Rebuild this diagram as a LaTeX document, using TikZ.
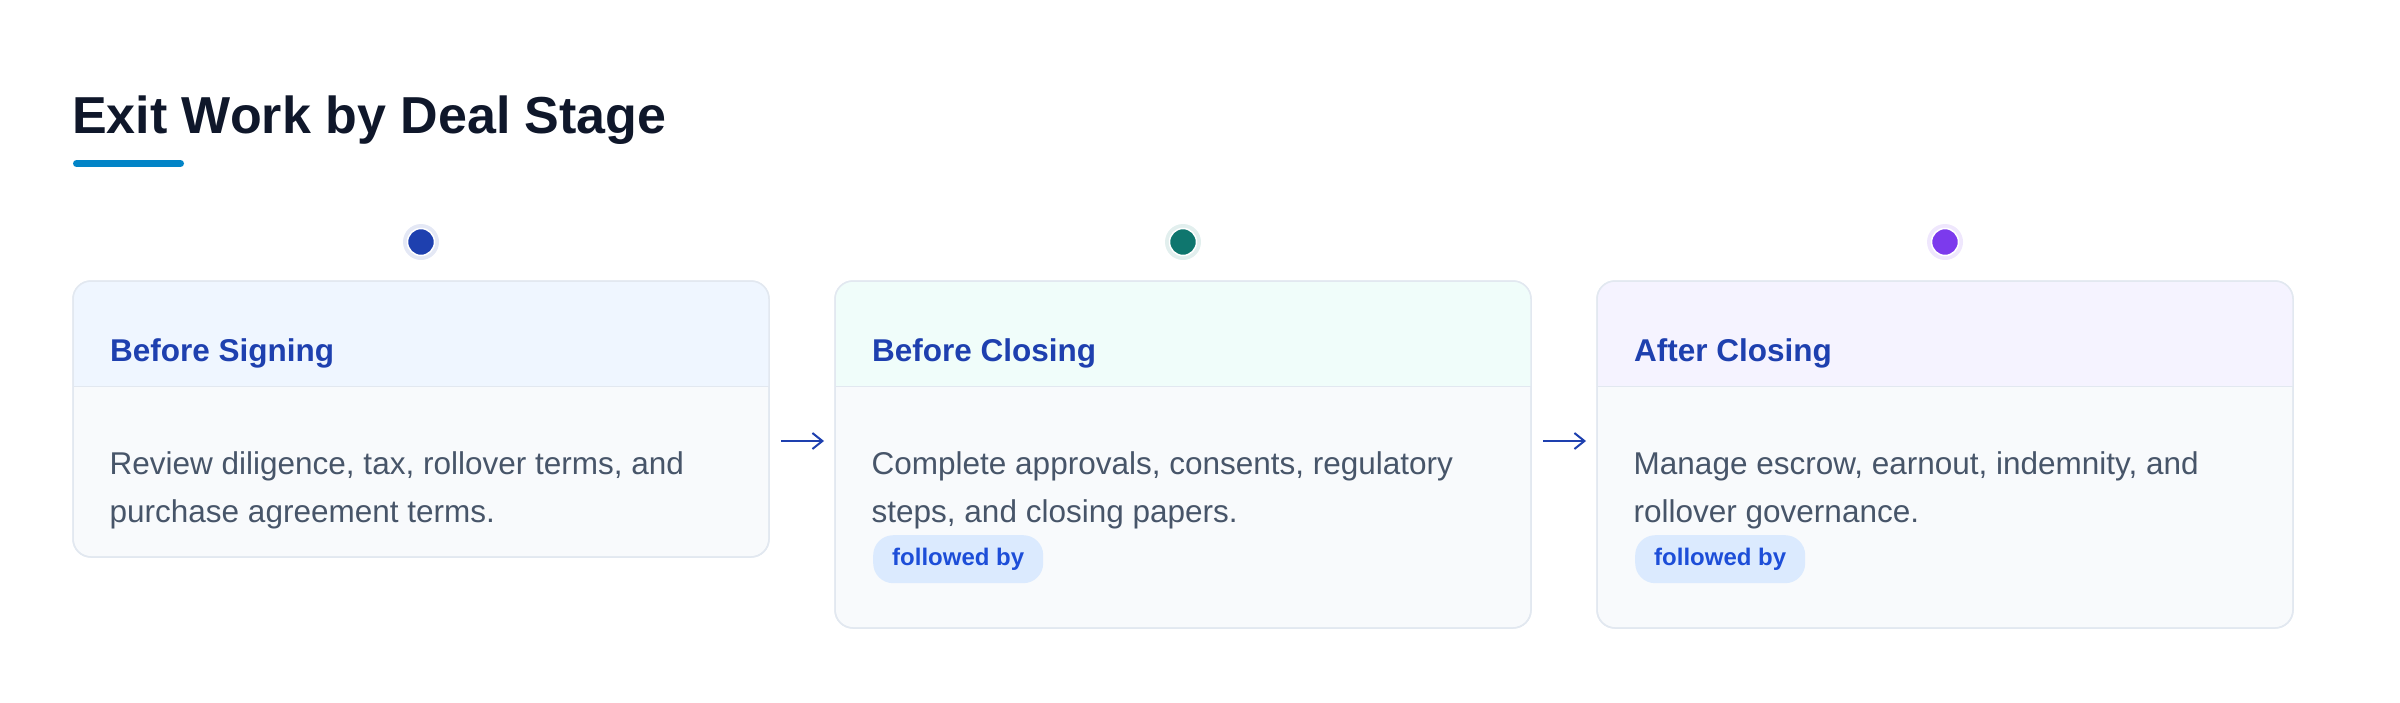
\documentclass[tikz,border=0pt]{standalone}
\usepackage{fontspec}
\setmainfont{Liberation Sans}
\usetikzlibrary{arrows.meta,positioning}

\definecolor{titlecol}{HTML}{0F172A}
\definecolor{barcol}{HTML}{0284C7}
\definecolor{headcol}{HTML}{1E40AF}
\definecolor{bodycol}{HTML}{475569}
\definecolor{linecol}{HTML}{E2E8F0}
\definecolor{bodyfill}{HTML}{F8FAFC}
\definecolor{tagfill}{HTML}{DBEAFE}
\definecolor{tagtext}{HTML}{1D4ED8}
\definecolor{hdA}{HTML}{EFF6FF}
\definecolor{hdB}{HTML}{F0FDFA}
\definecolor{hdC}{HTML}{F5F3FF}
\definecolor{dotA}{HTML}{1E40AF}
\definecolor{dotB}{HTML}{0F766E}
\definecolor{dotC}{HTML}{7C3AED}

\tikzset{x=1pt, y=-1pt}
\tikzset{
 card/.style={draw=linecol, line width=1.5pt, fill=bodyfill, rounded corners=18pt,
  minimum width=696pt, inner sep=0pt, outer sep=0pt},
 cardline/.style={draw=linecol, line width=1.5pt},
 headtext/.style={font=\bfseries\fontsize{31.5}{38}\selectfont, text=headcol, inner sep=0pt},
 bodytext/.style={font=\fontsize{31.5}{48}\selectfont, text=bodycol, align=left, inner sep=0pt},
 tag/.style={fill=tagfill, rounded corners=20pt, minimum height=48pt, inner xsep=19pt,
  inner ysep=0pt, font=\bfseries\fontsize{24}{28}\selectfont, text=tagtext},
 ring/.style={circle, minimum size=36pt, inner sep=0pt},
 stagedot/.style={circle, minimum size=27pt, inner sep=0pt, draw=white, line width=1.5pt},
 flow/.style={draw=headcol, line width=2pt, -{Straight Barb[length=10pt,width=16pt]}}
}

\begin{document}
\begin{tikzpicture}
\useasboundingbox (0,0) rectangle (2400,702);
\node[anchor=base west, inner sep=0pt, font=\bfseries\fontsize{52}{60}\selectfont, text=titlecol]
 (title) at (72,133.5) {Exit Work by Deal Stage};
\draw[barcol, line width=7pt, line cap=round] ([xshift=4.5pt,yshift=-30pt]title.base west) -- ++(104,0);

% one card per deal stage
\foreach \n/\x/\h/\hd/\dc/\head/\txt/\tag in {
 1/73/276/hdA/dotA/{Before Signing}/{Review diligence, tax, rollover terms, and\\purchase agreement terms.}/0,
 2/835/347/hdB/dotB/{Before Closing}/{Complete approvals, consents, regulatory\\steps, and closing papers.}/1,
 3/1597/347/hdC/dotC/{After Closing}/{Manage escrow, earnout, indemnity, and\\rollover governance.}/1}{
 \node[card, minimum height=\h pt, anchor=north west] (c\n) at (\x,281) {};
 \begin{scope}
  \clip[rounded corners=18pt] (c\n.south west) rectangle (c\n.north east);
  \fill[\hd] (c\n.north west) rectangle ([yshift=-105.7pt]c\n.north east);
 \end{scope}
 \draw[cardline] ([yshift=-105.7pt]c\n.north west) -- ([yshift=-105.7pt]c\n.north east);
 \draw[cardline, rounded corners=18pt] (c\n.south west) rectangle (c\n.north east);
 \node[headtext, anchor=base west] (t\n) at ([xshift=37pt,yshift=-80pt]c\n.north west) {\head};
 % base of a two-line node is its last line
 \node[bodytext, anchor=base west] (b\n) at ([xshift=36.5pt,yshift=-241pt]c\n.north west) {\txt};
 \ifnum\tag=1
  \node[tag, anchor=north west] (f\n) at ([xshift=38pt,yshift=-254pt]c\n.north west) {followed by};
 \fi
 \node[ring, fill=\dc!12] (r\n) at ([yshift=39pt]c\n.north) {};
 \node[stagedot, fill=\dc] (d\n) at (r\n) {};
}

\foreach \a/\b in {1/2,2/3}
 \draw[flow] ([xshift=12pt,yshift=-160pt]c\a.north east) -- ([xshift=-11pt,yshift=-160pt]c\b.north west);
\end{tikzpicture}
\end{document}
